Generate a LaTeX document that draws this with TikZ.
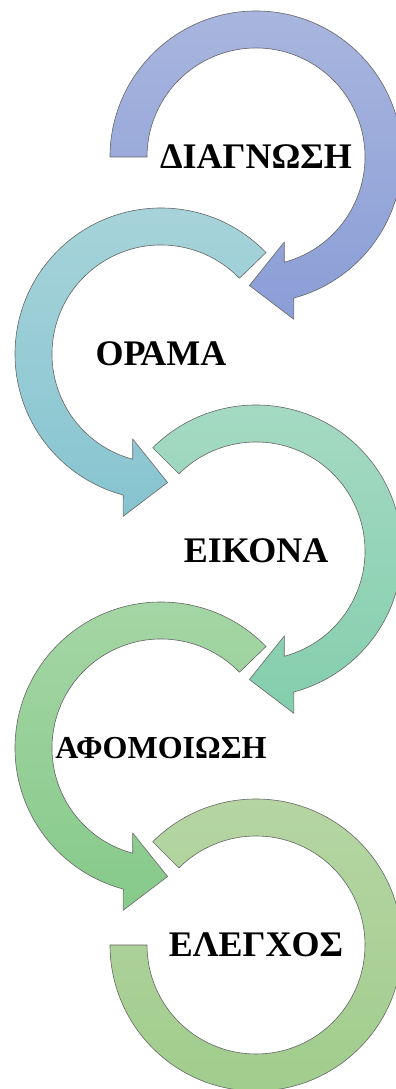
\documentclass[tikz,border=0pt]{standalone}
\usepackage{fontspec}
\setmainfont{Liberation Serif}
\usepackage{tikz}
\usetikzlibrary{calc}

\definecolor{blueA}{HTML}{A8B5DE}
\definecolor{blueB}{HTML}{8A9ED6}
\definecolor{tealA}{HTML}{A8D4DA}
\definecolor{tealB}{HTML}{86C4D0}
\definecolor{mintA}{HTML}{A6DAC4}
\definecolor{mintB}{HTML}{84CEAC}
\definecolor{leafA}{HTML}{A6D6A6}
\definecolor{leafB}{HTML}{86CA8A}
\definecolor{limeA}{HTML}{B6D6A4}
\definecolor{limeB}{HTML}{A0CC8C}

% curved arrow: centre, start angle, end angle, head direction, outer barb direction, top colour, bottom colour
\newcommand{\circarrow}[7]{%
  \path[arrowbody, top color=#6, bottom color=#7]
    ($(#1)+(#2:146pt)$) arc[start angle=#2, end angle=#3, radius=146pt]
    -- ($(#1)+(#3:128pt)+(#5:39pt)$)
    -- ($(#1)+(#3:128pt)+(#4:40pt)$)
    -- ($(#1)+(#3:128pt)+(#5+180:39pt)$)
    -- ($(#1)+(#3:109pt)$) arc[start angle=#3, end angle=#2, radius=109pt]
    -- cycle;}

\begin{document}
\begin{tikzpicture}[x=1pt, y=1pt,
    arrowbody/.style = {draw=black!60, line width=0.6pt, line join=round},
    word/.style = {font=\bfseries\fontsize{36}{40}\selectfont, text=black}]

    \clip (0,0) rectangle (396,1089);

    \coordinate (c1) at (256,932);
    \coordinate (c2) at (161,735);
    \coordinate (c3) at (256,538);
    \coordinate (c4) at (161,341);
    \coordinate (c5) at (256,144);

    % last one is a ring with no head
    \path[arrowbody, top color=limeA, bottom color=limeB]
      ($(c5)+(135:146pt)$) arc[start angle=135, end angle=-180, radius=146pt]
      -- ($(c5)+(-180:109pt)$) arc[start angle=-180, end angle=135, radius=109pt]
      -- cycle;
    \circarrow{c4}{44}{255}{353}{263}{leafA}{leafB}
    \circarrow{c3}{135}{-75}{-173}{-83}{mintA}{mintB}
    \circarrow{c2}{44}{255}{353}{263}{tealA}{tealB}
    \circarrow{c1}{180}{-75}{-173}{-83}{blueA}{blueB}

    \node[word] (diagnosi) at (c1) {ΔΙΑΓΝΩΣΗ};
    \node[word] (orama) at (c2) {ΟΡΑΜΑ};
    \node[word] (eikona) at (c3) {ΕΙΚΟΝΑ};
    \node[word, font=\bfseries\fontsize{32}{36}\selectfont] (afomoiosi) at (c4) {ΑΦΟΜΟΙΩΣΗ};
    \node[word] (elegxos) at (c5) {ΕΛΕΓΧΟΣ};
\end{tikzpicture}
\end{document}
